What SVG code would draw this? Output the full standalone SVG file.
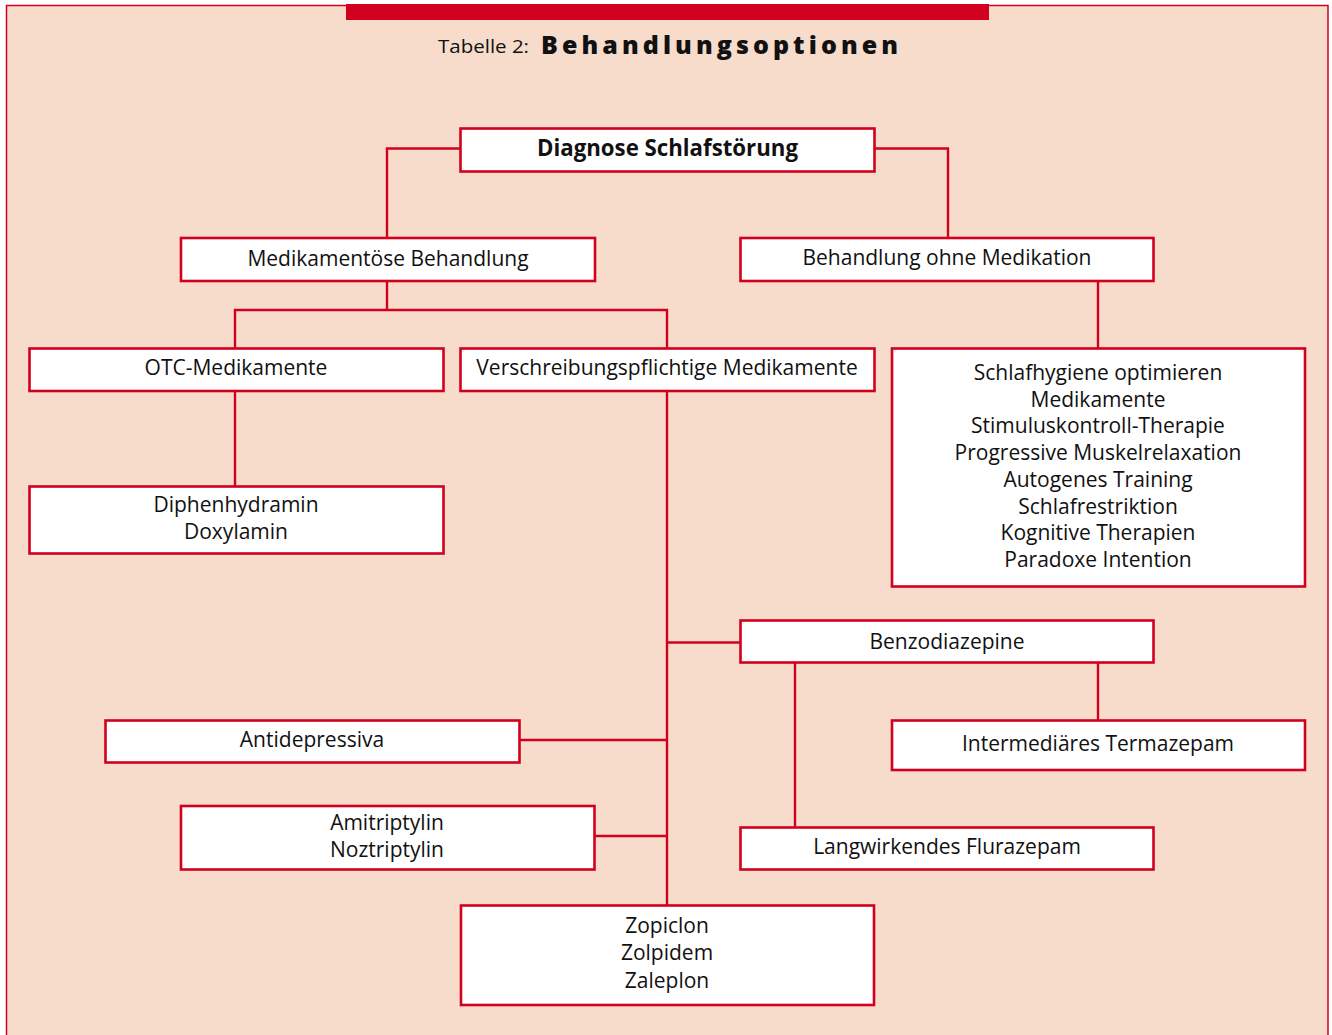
<svg xmlns="http://www.w3.org/2000/svg" width="1332" height="1035" viewBox="0 0 1332 1035">
<style>
.box{fill:#fff;stroke:#D2001E;stroke-width:2.6}
.conn{fill:none;stroke:#D2001E;stroke-width:2.4}
text{font-family:"Open Sans","Noto Sans","Liberation Sans",sans-serif;font-size:21px;fill:#111;text-anchor:middle}
.b{font-weight:bold}
</style>
<rect x="0" y="0" width="1332" height="1035" fill="#fff"/>
<rect x="6.5" y="5.5" width="1321.5" height="1040" fill="#F7DCCB" stroke="#D2001E" stroke-width="1.5"/>
<rect x="346" y="4" width="643" height="16" fill="#D2001E"/>
<g id="title">
<text x="438" y="53" style="font-size:19px;text-anchor:start" textLength="91" lengthAdjust="spacingAndGlyphs">Tabelle 2:</text>
<text x="541" y="53.5" class="b" style="font-size:25px;font-weight:800;text-anchor:start" textLength="357" lengthAdjust="spacing">Behandlungsoptionen</text>
</g>
<g id="connectors">
<path class="conn" d="M460,148.5 H387 V238"/>
<path class="conn" d="M875,148.5 H948 V238"/>
<path class="conn" d="M387,281 V310 M235,348 V310 H667 V348"/>
<path class="conn" d="M1098,281 V348"/>
<path class="conn" d="M235,391 V486"/>
<path class="conn" d="M667,391 V905"/>
<path class="conn" d="M667,642.5 H740"/>
<path class="conn" d="M519,740 H667"/>
<path class="conn" d="M594,836 H667"/>
<path class="conn" d="M1098,663 V720"/>
<path class="conn" d="M795,663 V827"/>
</g>
<g id="n-diagnose"><rect class="box" x="460.5" y="128.5" width="414" height="43"/><text x="667.5" y="156" class="b" style="font-size:22.5px" textLength="261" lengthAdjust="spacingAndGlyphs">Diagnose Schlafstörung</text></g>
<g id="n-medikamentoes"><rect class="box" x="181" y="238" width="414" height="43"/><text x="388" y="265.5">Medikamentöse Behandlung</text></g>
<g id="n-ohne"><rect class="box" x="740.5" y="238" width="413" height="43"/><text x="947" y="265">Behandlung ohne Medikation</text></g>
<g id="n-otc"><rect class="box" x="29.5" y="348.5" width="414" height="42.5"/><text x="236" y="375">OTC-Medikamente</text></g>
<g id="n-verschreibung"><rect class="box" x="460.5" y="348.5" width="414" height="42.5"/><text x="667" y="375">Verschreibungspflichtige Medikamente</text></g>
<g id="n-nichtmed"><rect class="box" x="892" y="348.5" width="413" height="238"/>
<text x="1098" y="380">Schlafhygiene optimieren</text>
<text x="1098" y="406.7">Medikamente</text>
<text x="1098" y="433.4">Stimuluskontroll-Therapie</text>
<text x="1098" y="460.1">Progressive Muskelrelaxation</text>
<text x="1098" y="486.8">Autogenes Training</text>
<text x="1098" y="513.5">Schlafrestriktion</text>
<text x="1098" y="540.2">Kognitive Therapien</text>
<text x="1098" y="566.9">Paradoxe Intention</text>
</g>
<g id="n-otcliste"><rect class="box" x="29.5" y="486.5" width="414" height="67"/><text x="236" y="512">Diphenhydramin</text><text x="236" y="539">Doxylamin</text></g>
<g id="n-benzo"><rect class="box" x="740.5" y="620.5" width="413" height="42"/><text x="947" y="648.5">Benzodiazepine</text></g>
<g id="n-antidep"><rect class="box" x="105.5" y="720.5" width="414" height="42"/><text x="312" y="747">Antidepressiva</text></g>
<g id="n-intermed"><rect class="box" x="892" y="720.5" width="413" height="49.5"/><text x="1098" y="751">Intermediäres Termazepam</text></g>
<g id="n-amitrip"><rect class="box" x="181" y="806" width="413.5" height="63.5"/><text x="387" y="830">Amitriptylin</text><text x="387" y="857">Noztriptylin</text></g>
<g id="n-langwirk"><rect class="box" x="740.5" y="827.5" width="413" height="42"/><text x="947" y="854">Langwirkendes Flurazepam</text></g>
<g id="n-z"><rect class="box" x="461" y="905.5" width="413" height="99.5"/><text x="667" y="933">Zopiclon</text><text x="667" y="960">Zolpidem</text><text x="667" y="987.5">Zaleplon</text></g>
</svg>
